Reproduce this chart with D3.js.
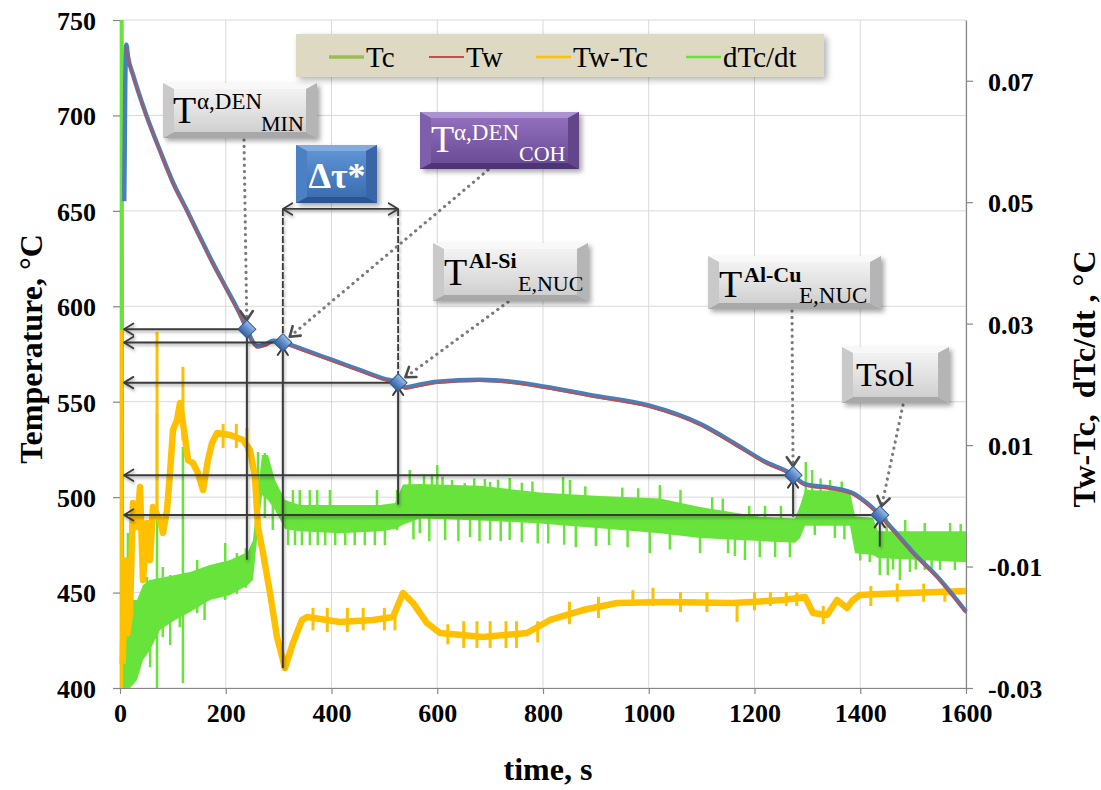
<!DOCTYPE html>
<html>
<head>
<meta charset="utf-8">
<script src="https://cdn.jsdelivr.net/npm/d3@7"></script>
<style>
  body { margin: 0; background: #fff; }
  svg { display: block; }
  text { font-family: "Liberation Serif", "Times New Roman", serif; }
</style>
</head>
<body>
<svg id="chart" width="1101" height="790"></svg>
<script>
// ---- tick values ----
const timeTicks = [0, 200, 400, 600, 800, 1000, 1200, 1400, 1600];
const tempTicks = [400, 450, 500, 550, 600, 650, 700, 750];
const rightTicks = [-0.03, -0.01, 0.01, 0.03, 0.05, 0.07];
const rightTickLabels = ["-0.03", "-0.01", "0.01", "0.03", "0.05", "0.07"];

// ---- legend ----
const seriesNames = ["Tc", "Tw", "Tw-Tc", "dTc/dt"];
const seriesColors = ["#9bbb59", "#c0504d", "#ffc000", "#68e33b"];

// ---- Tc (centre thermocouple), °C ----
const tcTime = [8, 10, 12, 15, 25, 50, 75, 100, 127, 150, 175, 200, 225, 240, 250, 260, 275, 290, 308, 350, 400, 450, 500, 526, 540, 560, 600, 680, 740, 800, 900, 1000, 1100, 1160, 1220, 1273, 1290, 1300, 1343, 1386, 1412, 1437, 1462, 1500, 1550, 1600];
const tcTemp = [655, 718, 737, 731, 721, 700, 682, 665, 650, 637, 623, 610, 597, 588, 582, 579, 580, 582, 581, 577, 572, 567, 562, 560, 557.5, 558.5, 560.5, 561.5, 560.5, 558, 553, 548, 538, 528.5, 518.5, 511.5, 507.5, 506.5, 505, 502, 497, 490.7, 483, 471, 457, 440];

// ---- Tw (wall thermocouple), °C ----
const twTime = [11, 15, 25, 50, 75, 100, 127, 150, 175, 200, 225, 240, 250, 260, 275, 290, 308, 350, 400, 450, 500, 526, 540, 560, 600, 680, 740, 800, 900, 1000, 1100, 1160, 1220, 1273, 1290, 1300, 1343, 1386, 1412, 1437, 1462, 1500, 1550, 1600];
const twTemp = [735.5, 730.2, 720.2, 699.2, 681.2, 664.2, 649.2, 636.2, 622.2, 609.2, 596.2, 587.2, 581.2, 578.2, 579.2, 581.2, 580.2, 576.2, 571.2, 566.2, 561.2, 559.2, 556.7, 557.7, 559.7, 560.7, 559.7, 557.2, 552.2, 547.2, 537.2, 527.7, 517.7, 510.7, 506.7, 505.7, 504.2, 501.2, 496.2, 489.9, 482.2, 470.2, 456.2, 439.2];

// ---- Tw-Tc, °C (right axis) ----
const dtTime = [5, 10, 14, 18.9, 24.6, 32.2, 37.8, 43.5, 51.1, 56.7, 62.4, 75.7, 81.3, 88.9, 94.6, 100.2, 107.8, 113.5, 122.9, 128.6, 138.1, 147.5, 157, 166.4, 174, 183.5, 208, 232.6, 245.9, 255.3, 261, 270.5, 283.7, 296.9, 312.1, 327.2, 344.2, 353.7, 416.1, 478.5, 516.3, 535.2, 554.1, 580.6, 605.2, 686.5, 769.8, 813.3, 875.7, 940, 1034.5, 1159.4, 1253.9, 1295.5, 1310.7, 1337.2, 1356.1, 1375, 1386.3, 1399.6, 1437.4, 1600];
const dtValue = [-0.026, -0.009, -0.021, -0.01765, 0.00046, -0.00349, 0.0031, -0.01222, -0.00283, -0.00892, -0.0002, -0.00234, -0.00448, -0.00069, 0.0054, 0.01249, 0.01413, 0.01693, 0.01133, 0.00754, 0.00705, 0.0054, 0.0026, 0.00754, 0.01034, 0.01199, 0.01166, 0.01084, 0.00919, 0.00475, -0.00349, -0.00777, -0.01436, -0.0216, -0.02671, -0.02259, -0.0188, -0.01831, -0.01913, -0.0188, -0.01831, -0.01436, -0.016, -0.0193, -0.02094, -0.0216, -0.02094, -0.0188, -0.01716, -0.016, -0.01584, -0.016, -0.01551, -0.01501, -0.01765, -0.01798, -0.01551, -0.01683, -0.01551, -0.01469, -0.01452, -0.01403];
// isolated excursions of Tw-Tc: [time, low, high]
const dtSpikes = [[3, -0.03, 0.029], [70, -0.0023, 0.0286], [119, 0.0108, 0.0229], [195, 0.0095, 0.0135], [220, 0.0095, 0.0135], [240, 0.009, 0.0128], [365, -0.0205, -0.0168], [392, -0.0208, -0.0168], [430, -0.0208, -0.0168], [460, -0.0205, -0.0168], [500, -0.0205, -0.0168], [520, -0.0205, -0.0168], [620, -0.0228, -0.0195], [650, -0.0234, -0.019], [675, -0.0234, -0.019], [700, -0.0234, -0.019], [730, -0.0234, -0.019], [750, -0.0234, -0.019], [790, -0.0225, -0.019], [850, -0.0195, -0.0158], [905, -0.0185, -0.015], [970, -0.0165, -0.0139], [1008, -0.0165, -0.0135], [1060, -0.0175, -0.0142], [1110, -0.0175, -0.0142], [1167, -0.0191, -0.0158], [1200, -0.0172, -0.0142], [1230, -0.0165, -0.0142], [1260, -0.0165, -0.0142], [1280, -0.0165, -0.0142], [1330, -0.0195, -0.0165], [1420, -0.0165, -0.0132], [1470, -0.0158, -0.0128], [1520, -0.0158, -0.0128], [1560, -0.0158, -0.0128]];

// ---- dTc/dt, °C/s (right axis): noise band envelope ----
const rateTime = [0, 7, 8, 18.9, 32.2, 43.5, 56.7, 75.7, 104, 132.4, 170.2, 208, 242, 251.5, 261, 268.6, 279.9, 293.2, 312.1, 340.4, 416.1, 491.7, 520.1, 535.2, 567.4, 680.9, 794.3, 907.8, 1021.3, 1096.9, 1210.4, 1276.6, 1286.1, 1295.5, 1380.6, 1390.1, 1424.2, 1433.6, 1600];
const rateHigh = [0.08, 0.08, -0.00892, -0.01551, -0.0155, -0.01304, -0.01222, -0.01189, -0.01139, -0.0109, -0.00975, -0.00892, -0.0076, -0.00563, 0.00261, 0.00837, 0.00837, 0.00425, 0.00096, 0.00014, 0.00014, 0.00014, 0.00046, 0.0035, 0.0036, 0.0033, 0.0022, 0.0016, 0.0012, -0.0002, -0.0018, -0.0021, 0.0, 0.0026, 0.0024, -0.0017, -0.002, -0.0042, -0.0042];
const rateLow = [-0.03, -0.03, -0.03, -0.03, -0.02868, -0.02539, -0.02374, -0.02045, -0.0188, -0.01749, -0.01551, -0.01469, -0.01304, -0.01222, -0.004, 0.00178, 0.00096, -0.00069, -0.0038, -0.0042, -0.0045, -0.0042, -0.0038, -0.0031, -0.0021, -0.0024, -0.0029, -0.0037, -0.0045, -0.0053, -0.0058, -0.0061, -0.0053, -0.0033, -0.0033, -0.0078, -0.0081, -0.0086, -0.0093];
// isolated excursions of dTc/dt: [time, low, high]
const rateSpikes = [[15, -0.03, -0.00448], [70, -0.03, 0.01528], [119, -0.02918, 0.00969], [51, -0.02424, -0.01172], [57, -0.02654, -0.0122], [81, -0.0216, -0.01008], [95, -0.02292, -0.0114], [113, -0.01996, -0.0114], [146, -0.01765, -0.00892], [160, -0.0188, -0.0109], [199, -0.0155, -0.00612], [221, -0.0145, -0.00777], [238, -0.0135, -0.007], [261, -0.002, 0.00886], [274, -0.002, 0.0087], [289, -0.004, 0.0026], [318, -0.00645, 0.0], [327, -0.004, 0.0026], [331, -0.00645, -0.002], [340, -0.004, 0.0026], [344, -0.00645, -0.002], [359, -0.00645, 0.0026], [373, -0.004, 0.0026], [374, -0.00645, -0.002], [388, -0.00645, -0.002], [397, -0.004, 0.0026], [407, -0.00645, -0.002], [426, -0.00645, -0.002], [444, -0.00645, -0.002], [463, -0.00645, -0.002], [482, -0.00645, -0.002], [486, -0.004, 0.0026], [501, -0.00645, -0.002], [524, -0.004, 0.0026], [548, -0.002, 0.0059], [555, -0.0055, 0.0], [567, -0.00448, 0.002], [575, -0.002, 0.0052], [585, -0.0058, 0.0], [590, -0.002, 0.0052], [600, -0.002, 0.00672], [610, -0.002, 0.0048], [615, -0.00563, 0.0], [628, -0.002, 0.00425], [640, -0.0058, 0.0], [652, -0.002, 0.00376], [662, -0.00513, 0.0], [670, -0.002, 0.0045], [680, -0.0058, 0.0], [690, -0.002, 0.0044], [700, -0.00563, 0.00392], [715, -0.002, 0.0043], [720, -0.0058, 0.0], [737, -0.00563, 0.00458], [760, -0.006, 0.0038], [780, -0.002, 0.0040], [790, -0.0062, 0.0], [810, -0.0062, 0.0], [838, -0.002, 0.00475], [840, -0.0064, 0.0], [851, -0.002, 0.00425], [862, -0.00678, -0.002], [880, -0.002, 0.0032], [900, -0.0066, 0.0], [925, -0.00645, -0.002], [950, -0.002, 0.003], [960, -0.0068, -0.002], [980, -0.002, 0.0029], [1002, -0.00777, -0.003], [1021, -0.002, 0.00343], [1040, -0.0072, -0.002], [1060, -0.002, 0.0026], [1097, -0.00777, -0.003], [1120, -0.003, 0.0014], [1140, -0.003, 0.0012], [1150, -0.0078, -0.004], [1163, -0.00826, -0.003], [1182, -0.00892, -0.004], [1190, -0.004, 0.0], [1210, -0.00843, -0.004], [1220, -0.004, 0.0], [1239, -0.00843, -0.004], [1250, -0.004, 0.0], [1267, -0.00843, -0.004], [1297, -0.002, 0.00722], [1309, -0.002, 0.0059], [1314, -0.0048, 0.0], [1325, -0.002, 0.0045], [1343, -0.002, 0.00425], [1352, -0.0053, 0.0], [1365, -0.002, 0.0040], [1370, -0.0055, 0.0], [1400, -0.009, -0.004], [1418, -0.00925, -0.004], [1437, -0.01139, -0.006], [1450, -0.006, -0.00201], [1452, -0.01139, -0.006], [1462, -0.0105, -0.006], [1475, -0.01222, -0.006], [1485, -0.006, -0.00234], [1494, -0.0109, -0.006], [1505, -0.0105, -0.006], [1522, -0.01057, -0.00283], [1535, -0.0105, -0.006], [1551, -0.01057, -0.006], [1570, -0.006, -0.00283], [1579, -0.01057, -0.006], [1590, -0.006, -0.003]];

// ---- characteristic points on Tc ----
const pointTime = [240, 308, 526, 1273, 1437];
const pointTemp = [588, 581, 560, 511.5, 490.7];
// where each vertical drop line meets the Tw-Tc / dTc/dt traces (right axis)
const pointDropTo = [-0.00888, -0.0267, 0.0002, -0.0018, -0.0067];
// level of the Δτ* bracket, °C
const bracketTemp = 651;

// ---------------------------------------------------------------
const svg = d3.select("#chart");
const x = d3.scaleLinear().domain([0, 1600]).range([120, 966]);
const yL = d3.scaleLinear().domain([400, 750]).range([688, 20]);
const yR = d3.scaleLinear().domain([-0.03, 0.08]).range([688, 20]);

const defs = svg.append("defs");
function shadow(id, dx, dy, sd, op) {
  const f = defs.append("filter").attr("id", id)
    .attr("x", "-20%").attr("y", "-20%").attr("width", "150%").attr("height", "160%");
  f.append("feDropShadow").attr("dx", dx).attr("dy", dy)
    .attr("stdDeviation", sd).attr("flood-color", "#000").attr("flood-opacity", op);
}
shadow("boxShadow", 3, 3, 2.5, 0.35);
shadow("lineShadow", 1, 2, 1.5, 0.35);
shadow("legendShadow", 3, 3, 3, 0.3);

function vgrad(id, stops) {
  const g = defs.append("linearGradient").attr("id", id)
    .attr("x1", 0).attr("y1", 0).attr("x2", 0).attr("y2", 1);
  stops.forEach(([o, c]) => g.append("stop").attr("offset", o).attr("stop-color", c));
}
vgrad("grayFace", [[0, "#f3f3f3"], [0.5, "#e2e2e2"], [1, "#cfcfcf"]]);
vgrad("blueFace", [[0, "#5e93d4"], [1, "#3c6db0"]]);
vgrad("purpleFace", [[0, "#916fbd"], [1, "#6a4b95"]]);
vgrad("markerFill", [[0, "#9dbde6"], [0.5, "#5b8acb"], [1, "#35619c"]]);

// ---- grid ----
const grid = svg.append("g").attr("stroke", "#d9d9d9").attr("stroke-width", 1);
tempTicks.forEach(v => grid.append("line")
  .attr("x1", 120).attr("x2", 966).attr("y1", yL(v)).attr("y2", yL(v)));
timeTicks.forEach(v => grid.append("line")
  .attr("x1", x(v)).attr("x2", x(v)).attr("y1", 20).attr("y2", 688));

// ---- axes ----
function styleAxis(g) {
  g.select(".domain").attr("stroke", "#868686").attr("stroke-width", 1.2);
  g.selectAll(".tick line").attr("stroke", "#868686").attr("stroke-width", 1.2);
  g.selectAll(".tick text").attr("fill", "#000")
    .style("font-family", '"Liberation Serif", serif')
    .style("font-weight", "bold").style("font-size", "26px");
}
svg.append("g").attr("transform", "translate(120,0)")
  .call(d3.axisLeft(yL).tickValues(tempTicks).tickFormat(d3.format("d"))
    .tickSize(7).tickPadding(17).tickSizeOuter(0))
  .call(styleAxis)
  .selectAll(".tick text").attr("dy", "0.36em");
svg.append("g").attr("transform", "translate(966,0)")
  .call(d3.axisRight(yR).tickValues(rightTicks)
    .tickFormat((d, i) => rightTickLabels[i]).tickSize(7).tickPadding(15).tickSizeOuter(0))
  .call(styleAxis)
  .selectAll(".tick text").attr("dy", "0.36em");
svg.append("g").attr("transform", "translate(0,688)")
  .call(d3.axisBottom(x).tickValues(timeTicks).tickFormat(d3.format("d"))
    .tickSize(6).tickPadding(10).tickSizeOuter(0))
  .call(styleAxis);

// axis titles
svg.append("text").attr("transform", "translate(42,349) rotate(-90)")
  .attr("text-anchor", "middle").style("font-weight", "bold").style("font-size", "32px")
  .text("Temperature, °C");
svg.append("text").attr("transform", "translate(1095,379) rotate(-90)")
  .attr("text-anchor", "middle").style("font-weight", "bold").style("font-size", "32px")
  .style("white-space", "pre")
  .text("Tw-Tc,  dTc/dt , °C");
svg.append("text").attr("x", 548).attr("y", 780)
  .attr("text-anchor", "middle").style("font-weight", "bold").style("font-size", "32px")
  .text("time, s");

// ---- dTc/dt noise band ----
const plot = svg.append("g");
const rateIdx = d3.range(rateTime.length);
plot.append("path")
  .attr("d", d3.area().x(i => x(rateTime[i])).y0(i => yR(rateLow[i])).y1(i => yR(rateHigh[i]))(rateIdx))
  .attr("fill", seriesColors[3]);
plot.append("g").selectAll("line").data(rateSpikes).join("line")
  .attr("x1", d => x(d[0])).attr("x2", d => x(d[0]))
  .attr("y1", d => yR(d[1])).attr("y2", d => yR(d[2]))
  .attr("stroke", seriesColors[3]).attr("stroke-width", 2.5);

// ---- Tw-Tc ----
const dtIdx = d3.range(dtTime.length);
plot.append("path")
  .attr("d", d3.line().x(i => x(dtTime[i])).y(i => yR(dtValue[i]))(dtIdx))
  .attr("fill", "none").attr("stroke", seriesColors[2]).attr("stroke-width", 6.5)
  .attr("stroke-linejoin", "round");
plot.append("g").selectAll("line").data(dtSpikes).join("line")
  .attr("x1", d => x(d[0])).attr("x2", d => x(d[0]))
  .attr("y1", d => yR(d[1])).attr("y2", d => yR(d[2]))
  .attr("stroke", seriesColors[2]).attr("stroke-width", 3);

// ---- Tc and Tw ----
const tcIdx = d3.range(tcTime.length);
const twIdx = d3.range(twTime.length);
plot.append("path")
  .attr("d", d3.line().curve(d3.curveMonotoneX).x(i => x(tcTime[i])).y(i => yL(tcTemp[i]))(tcIdx))
  .attr("fill", "none").attr("stroke", "#4a7ebb").attr("stroke-width", 4.5);
plot.append("path")
  .attr("d", d3.line().curve(d3.curveMonotoneX).x(i => x(twTime[i])).y(i => yL(twTemp[i]))(twIdx))
  .attr("fill", "none").attr("stroke", seriesColors[1]).attr("stroke-width", 1.6);

// ---- annotation helpers ----
const ann = svg.append("g");
function chevron(g, tx, ty, ang, color, len = 11, spread = 0.62, w = 2.4) {
  const a1 = ang + Math.PI - spread, a2 = ang + Math.PI + spread;
  g.append("path")
    .attr("d", `M${tx + len * Math.cos(a1)},${ty + len * Math.sin(a1)}L${tx},${ty}L${tx + len * Math.cos(a2)},${ty + len * Math.sin(a2)}`)
    .attr("fill", "none").attr("stroke", color).attr("stroke-width", w)
    .attr("stroke-linecap", "round").attr("stroke-linejoin", "round");
}

// horizontal read-out arrows to the temperature axis, and vertical drops
const arrows = ann.append("g").attr("filter", "url(#lineShadow)");
pointTime.forEach((t, i) => {
  const px = x(t), py = yL(pointTemp[i]);
  arrows.append("line").attr("x1", px).attr("x2", 124).attr("y1", py).attr("y2", py)
    .attr("stroke", "#3a3a3a").attr("stroke-width", 2);
  chevron(arrows, 124, py, Math.PI, "#3a3a3a", 11, 0.55, 1.8);
  arrows.append("line").attr("x1", px).attr("x2", px).attr("y1", py).attr("y2", yR(pointDropTo[i]))
    .attr("stroke", "#3a3a3a").attr("stroke-width", 2);
});

// Δτ* bracket
const by = yL(bracketTemp);
const bx1 = x(pointTime[1]), bx2 = x(pointTime[2]);
const br = ann.append("g").attr("filter", "url(#lineShadow)");
[[bx1, yL(pointTemp[1])], [bx2, yL(pointTemp[2])]].forEach(([bx, ey]) => {
  br.append("line").attr("x1", bx).attr("x2", bx).attr("y1", by).attr("y2", ey)
    .attr("stroke", "#3a3a3a").attr("stroke-width", 1.8).attr("stroke-dasharray", "7,2");
});
br.append("line").attr("x1", bx1).attr("x2", bx2).attr("y1", by).attr("y2", by)
  .attr("stroke", "#3a3a3a").attr("stroke-width", 1.8);
chevron(br, bx1, by, Math.PI, "#3a3a3a", 11, 0.55, 1.8);
chevron(br, bx2, by, 0, "#3a3a3a", 11, 0.55, 1.8);

// dotted callout leaders
const leaders = [
  [244, 140, 0],
  [488, 170, 1],
  [508, 302, 2],
  [792, 311, 3],
  [903, 405, 4]
];
const dots = ann.append("g");
leaders.forEach(([lx, ly, k]) => {
  const px = x(pointTime[k]), py = yL(pointTemp[k]);
  const ang = Math.atan2(py - ly, px - lx);
  const tx = px - 9 * Math.cos(ang), ty = py - 9 * Math.sin(ang);
  dots.append("line").attr("x1", lx).attr("y1", ly).attr("x2", tx).attr("y2", ty)
    .attr("stroke", "#7a7a7a").attr("stroke-width", 3.2)
    .attr("stroke-linecap", "round").attr("stroke-dasharray", "0.1,6.2");
  chevron(dots, tx, ty, ang, "#4d4d4d", 11, 0.6, 2.6);
});

// markers
const marks = ann.append("g");
pointTime.forEach((t, i) => {
  const px = x(t), py = yL(pointTemp[i]);
  if (i > 0) chevron(marks, px, py + 5, -Math.PI / 2, "#3a3a3a", 9, 0.6, 2);
  marks.append("path")
    .attr("d", d3.symbol(d3.symbolSquare, 160)())
    .attr("transform", `translate(${px},${py}) rotate(45)`)
    .attr("fill", "url(#markerFill)").attr("stroke", "#2f5b91").attr("stroke-width", 1);
});

// ---- callout boxes ----
const palettes = {
  gray: { face: "url(#grayFace)", top: "#f8f8f8", bottom: "#a8a8a8", left: "#c9c9c9", right: "#b5b5b5", text: "#000" },
  blue: { face: "url(#blueFace)", top: "#82ace0", bottom: "#2b5492", left: "#4c80c4", right: "#3866a6", text: "#fff" },
  purple: { face: "url(#purpleFace)", top: "#ab92d0", bottom: "#4e3574", left: "#7e5fab", right: "#634589", text: "#fff" }
};
function bevelBox(bx, bY, bw, bh, pal) {
  const g = svg.append("g");
  const s = g.append("g").attr("filter", "url(#boxShadow)");
  const sw = 11, sh = 6;
  s.append("rect").attr("x", bx).attr("y", bY).attr("width", bw).attr("height", bh).attr("fill", pal.face);
  const poly = (pts, c) => s.append("polygon").attr("points", pts.map(p => p.join(",")).join(" ")).attr("fill", c);
  poly([[bx, bY], [bx + bw, bY], [bx + bw - sw, bY + sh], [bx + sw, bY + sh]], pal.top);
  poly([[bx, bY + bh], [bx + bw, bY + bh], [bx + bw - sw, bY + bh - sh], [bx + sw, bY + bh - sh]], pal.bottom);
  poly([[bx, bY], [bx + sw, bY + sh], [bx + sw, bY + bh - sh], [bx, bY + bh]], pal.left);
  poly([[bx + bw, bY], [bx + bw - sw, bY + sh], [bx + bw - sw, bY + bh - sh], [bx + bw, bY + bh]], pal.right);
  g.append("rect").attr("x", bx + sw).attr("y", bY + sh).attr("width", bw - 2 * sw).attr("height", bh - 2 * sh)
    .attr("fill", pal.face).attr("opacity", 0.85);
  return g;
}
function put(g, tx, ty, str, size, color, bold) {
  g.append("text").attr("x", tx).attr("y", ty).attr("fill", color)
    .style("font-size", size + "px").style("font-weight", bold ? "bold" : "normal").text(str);
}

let b = bevelBox(163, 83, 154, 55, palettes.gray);
put(b, 173, 123, "T", 38, "#000");
put(b, 197, 109, "α,DEN", 23, "#000");
put(b, 261, 131, "MIN", 22, "#000");

b = bevelBox(420, 112, 159, 57, palettes.purple);
put(b, 431, 152, "T", 38, "#fff");
put(b, 454, 140, "α,DEN", 23, "#fff");
put(b, 519, 161, "COH", 22, "#fff");

b = bevelBox(296, 145, 81, 58, palettes.blue);
b.append("text").attr("x", 337).attr("y", 188).attr("text-anchor", "middle").attr("fill", "#fff")
  .style("font-size", "36px").style("font-weight", "bold").text("Δτ*");

b = bevelBox(433, 243, 155, 58, palettes.gray);
put(b, 444, 285, "T", 38, "#000");
put(b, 469, 268, "Al-Si", 22, "#000", true);
put(b, 518, 291, "E,NUC", 22, "#000");

b = bevelBox(708, 256, 173, 53, palettes.gray);
put(b, 719, 297, "T", 38, "#000");
put(b, 744, 282, "Al-Cu", 22, "#000", true);
put(b, 799, 303, "E,NUC", 23, "#000");

b = bevelBox(842, 347, 107, 56, palettes.gray);
put(b, 856, 386, "Tsol", 34, "#000");

// ---- legend ----
const lg = svg.append("g");
lg.append("rect").attr("x", 296).attr("y", 34).attr("width", 528).attr("height", 43)
  .attr("fill", "#ddd9c3").attr("filter", "url(#legendShadow)");
const legX = [329, 429, 536, 686];
const legW = [3.5, 1.8, 2.5, 2.5];
seriesNames.forEach((n, i) => {
  lg.append("line").attr("x1", legX[i]).attr("x2", legX[i] + 35).attr("y1", 57).attr("y2", 57)
    .attr("stroke", seriesColors[i]).attr("stroke-width", legW[i]);
  lg.append("text").attr("x", legX[i] + 37).attr("y", 67).style("font-size", "29px").text(n);
});
</script>
</body>
</html>
